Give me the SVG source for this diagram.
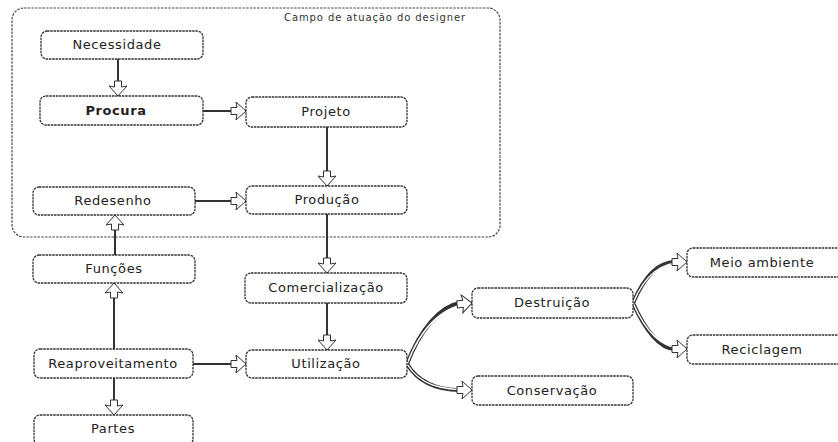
<svg xmlns="http://www.w3.org/2000/svg" width="838" height="442" viewBox="0 0 838 442">
<style>
.box{fill:#fff;stroke:#333;stroke-width:1.3;stroke-dasharray:2.5 0.8}
.frame{fill:none;stroke:#444;stroke-width:1.2;stroke-dasharray:2.5 1.2}
.t{font-family:"DejaVu Sans","Liberation Sans",sans-serif;font-size:13px;letter-spacing:0.6px;fill:#222;text-anchor:middle}
.b{font-weight:bold;font-size:13px}
.lbl{font-family:"DejaVu Sans","Liberation Sans",sans-serif;font-size:10px;letter-spacing:0.9px;fill:#333;text-anchor:middle}
.ln{fill:none;stroke:#333;stroke-width:2}
.outer{fill:none;stroke:#333;stroke-width:4}
.inner{fill:none;stroke:#fff;stroke-width:1.4}
</style>
<defs>
<marker id="ah" viewBox="-16 -10 17 20" refX="0" refY="0" markerWidth="17" markerHeight="20" markerUnits="userSpaceOnUse" orient="auto">
<path d="M0,0 L-10,-9 L-9,-3.5 L-15,-3.5 L-15,3.5 L-9,3.5 L-10,9 Z" fill="#fff" stroke="#333" stroke-width="1"/>
</marker>
</defs>
<rect width="838" height="442" fill="#fff"/>
<g id="campo">
<rect class="frame" x="12" y="8" width="488" height="229" rx="12"/>
<text class="lbl" x="375" y="21">Campo de atuação do designer</text>
</g>
<g id="connectors">
<line class="ln" x1="118" y1="59" x2="118" y2="96" marker-end="url(#ah)"/>
<line class="ln" x1="203" y1="111" x2="246" y2="111" marker-end="url(#ah)"/>
<line class="ln" x1="327" y1="127" x2="327" y2="186" marker-end="url(#ah)"/>
<line class="ln" x1="195" y1="201" x2="246" y2="201" marker-end="url(#ah)"/>
<line class="ln" x1="327" y1="214" x2="327" y2="273" marker-end="url(#ah)"/>
<line class="ln" x1="115" y1="255" x2="115" y2="215" marker-end="url(#ah)"/>
<line class="ln" x1="114" y1="349" x2="114" y2="283" marker-end="url(#ah)"/>
<line class="ln" x1="114" y1="378" x2="114" y2="415" marker-end="url(#ah)"/>
<line class="ln" x1="193" y1="364" x2="246" y2="364" marker-end="url(#ah)"/>
<line class="ln" x1="327" y1="303" x2="327" y2="350" marker-end="url(#ah)"/>
<path class="outer" d="M407,364 C420,330 440,306 460,303"/>
<path class="inner" d="M407,364 C420,330 440,306 472,303" marker-end="url(#ah)"/>
<path class="outer" d="M407,364 C420,385 440,390 460,390"/>
<path class="inner" d="M407,364 C420,385 440,390 472,390" marker-end="url(#ah)"/>
<path class="outer" d="M633,303 C645,275 660,262 675,262"/>
<path class="inner" d="M633,303 C645,275 660,262 687,262" marker-end="url(#ah)"/>
<path class="outer" d="M633,303 C645,330 660,349 675,349"/>
<path class="inner" d="M633,303 C645,330 660,349 687,349" marker-end="url(#ah)"/>
</g>
<g id="necessidade"><rect class="box" x="41" y="31" width="162" height="28" rx="6"/><text class="t" x="117" y="49">Necessidade</text></g>
<g id="procura"><rect class="box" x="40" y="96" width="163" height="29" rx="6"/><text class="t b" x="116" y="115">Procura</text></g>
<g id="projeto"><rect class="box" x="246" y="97" width="161" height="30" rx="6"/><text class="t" x="326" y="116">Projeto</text></g>
<g id="redesenho"><rect class="box" x="33" y="187" width="162" height="28" rx="6"/><text class="t" x="113" y="205">Redesenho</text></g>
<g id="producao"><rect class="box" x="246" y="186" width="161" height="28" rx="6"/><text class="t" x="327" y="204">Produção</text></g>
<g id="funcoes"><rect class="box" x="33" y="255" width="162" height="28" rx="6"/><text class="t" x="114" y="273">Funções</text></g>
<g id="comercializacao"><rect class="box" x="245" y="273" width="162" height="30" rx="6"/><text class="t" x="326" y="292">Comercialização</text></g>
<g id="reaproveitamento"><rect class="box" x="34" y="349" width="159" height="29" rx="6"/><text class="t" x="113" y="368">Reaproveitamento</text></g>
<g id="utilizacao"><rect class="box" x="246" y="350" width="161" height="28" rx="6"/><text class="t" x="326" y="368">Utilização</text></g>
<g id="partes"><rect class="box" x="34" y="415" width="159" height="30" rx="6"/><text class="t" x="113" y="433">Partes</text></g>
<g id="destruicao"><rect class="box" x="472" y="288" width="161" height="30" rx="6"/><text class="t" x="552" y="307">Destruição</text></g>
<g id="conservacao"><rect class="box" x="472" y="376" width="161" height="29" rx="6"/><text class="t" x="552" y="395">Conservação</text></g>
<g id="meio-ambiente"><rect class="box" x="687" y="248" width="165" height="29" rx="6"/><text class="t" x="762" y="267">Meio ambiente</text></g>
<g id="reciclagem"><rect class="box" x="687" y="335" width="165" height="29" rx="6"/><text class="t" x="762" y="354">Reciclagem</text></g>
</svg>
